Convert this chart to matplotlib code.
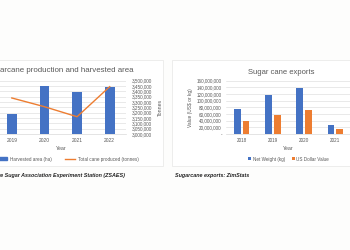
import numpy as np
import matplotlib.pyplot as plt
from matplotlib.patches import Rectangle
from matplotlib.lines import Line2D
from matplotlib.ticker import FuncFormatter

# Left chart data: sugarcane production and harvested area
prod_years = ['2019', '2020', '2021', '2022']
harvested_area = [18800, 45000, 39400, 43800]          # ha (left axis, cropped)
cane_produced = [3338000, 3256000, 3162000, 3444000]   # tonnes (right axis)

# Right chart data: sugar cane exports
export_years = ['2018', '2019', '2020', '2021']
net_weight = [75e6, 116e6, 137e6, 26e6]
usd_value = [38e6, 56e6, 73e6, 16e6]

BLUE = '#4472C4'
ORANGE = '#ED7D31'
GREY = '#595959'
GRID = '#D9D9D9'

plt.rcParams['font.family'] = ['Liberation Sans', 'DejaVu Sans']

W, H = 350, 250
fig = plt.figure(figsize=(3.5, 2.5), dpi=100)
fig.patch.set_facecolor('#FDFDFC')


def box(x0, y0, x1, y1):
    # pixel box (top-left origin) -> figure fraction rect
    return [x0 / W, 1 - y1 / H, (x1 - x0) / W, (y1 - y0) / H]


def comma(v, pos):
    return '{:,.0f}'.format(v)


# chart cards (behind the axes)
for x0, x1 in [(-10, 163), (172, 352)]:
    fig.patches.append(Rectangle((x0 / W, 1 - 166 / H), (x1 - x0) / W, 106 / H,
                                 transform=fig.transFigure, facecolor='white',
                                 edgecolor='#E6E6E6', linewidth=0.5,
                                 zorder=-10))

# ---- left chart ----
ax1 = fig.add_axes(box(-4.5, 80.7, 126, 134))
ax1.patch.set_alpha(0)
x = np.arange(len(prod_years))
ax1.bar(x, harvested_area, width=0.3, color=BLUE, zorder=3)
ax1.set_ylim(0, 50000)
ax1.set_yticks(np.arange(0, 50001, 5000))
ax1.yaxis.grid(True, color=GRID, linewidth=0.4)
ax1.set_axisbelow(True)
ax1.set_xlim(-0.5, 3.5)
ax1.set_xticks(x)
ax1.set_xticklabels(prod_years, fontsize=3.5, color=GREY)
ax1.tick_params(length=0, pad=3)
ax1.set_yticklabels([])
ax1.set_xlabel('Year', fontsize=3.8, color=GREY, labelpad=2)
for s in ['top', 'left', 'right']:
    ax1.spines[s].set_visible(False)
ax1.spines['bottom'].set_color(GRID)
ax1.spines['bottom'].set_linewidth(0.5)

ax2 = ax1.twinx()
ax2.plot(x, cane_produced, color=ORANGE, linewidth=1.0, zorder=4)
ax2.set_ylim(3000000, 3500000)
ax2.set_yticks(np.arange(3000000, 3500001, 50000))
ax2.yaxis.set_major_formatter(FuncFormatter(comma))
ax2.tick_params(length=0, labelsize=3.3, labelcolor=GREY, pad=4)
ax2.set_ylabel('Tonnes', fontsize=3.8, color=GREY, labelpad=4)
for s in ax2.spines.values():
    s.set_visible(False)

fig.text(134 / W, 1 - 71 / H, 'Sugarcane production and harvested area',
         fontsize=5.7, color=GREY, va='center', ha='right')

handles = [Rectangle((0, 0), 1, 1, color=BLUE),
           Line2D([0], [0], color=ORANGE, linewidth=1.0)]
fig.legend(handles, ['Harvested area (ha)', 'Total cane produced (tonnes)'],
           loc='center', bbox_to_anchor=(68 / W, 1 - 159 / H), ncol=2,
           frameon=False, fontsize=3.3, labelcolor=GREY, handlelength=2.2,
           handleheight=0.6, columnspacing=3, handletextpad=0.5)

fig.text(125 / W, 1 - 175 / H,
         'Zimbabwe Sugar Association Experiment Station (ZSAES)',
         fontsize=3.9, fontweight='bold', fontstyle='italic', color='#222222',
         ha='right', va='center')

# ---- right chart ----
ax3 = fig.add_axes(box(226, 80.7, 351, 134))
ax3.patch.set_alpha(0)
xe = np.arange(len(export_years))
ax3.bar(xe - 0.14, net_weight, width=0.22, color=BLUE, zorder=3,
        label='Net Weight (kg)')
ax3.bar(xe + 0.14, usd_value, width=0.22, color=ORANGE, zorder=3,
        label='US Dollar Value')
ax3.set_ylim(0, 160e6)
ax3.set_yticks(np.arange(0, 160e6 + 1, 20e6))
ax3.yaxis.set_major_formatter(
    FuncFormatter(lambda v, p: '-' if v == 0 else '{:,.0f}'.format(v)))
ax3.yaxis.grid(True, color=GRID, linewidth=0.4)
ax3.set_axisbelow(True)
ax3.set_xlim(-0.5, 3.5)
ax3.set_xticks(xe)
ax3.set_xticklabels(export_years)
ax3.tick_params(length=0, labelsize=3.3, labelcolor=GREY, pad=3)
ax3.set_xlabel('Year', fontsize=3.8, color=GREY, labelpad=2)
ax3.set_ylabel('Value (US$ or kg)', fontsize=3.5, color=GREY, labelpad=3)
for s in ['top', 'left', 'right']:
    ax3.spines[s].set_visible(False)
ax3.spines['bottom'].set_color(GRID)
ax3.spines['bottom'].set_linewidth(0.5)
ax3.set_title('Sugar cane exports', fontsize=5.5, color=GREY, pad=5, x=0.44)
ax3.legend(loc='center', bbox_to_anchor=(0.5, -0.47), ncol=2, frameon=False,
           fontsize=3.3, labelcolor=GREY, handlelength=0.6, handleheight=0.6,
           columnspacing=1.5, handletextpad=0.4)

fig.text(175 / W, 1 - 175 / H, 'Sugarcane exports: ZimStats',
         fontsize=3.9, fontweight='bold', fontstyle='italic', color='#222222',
         ha='left', va='center')

fig.savefig('out.png', dpi=100, facecolor=fig.get_facecolor())
